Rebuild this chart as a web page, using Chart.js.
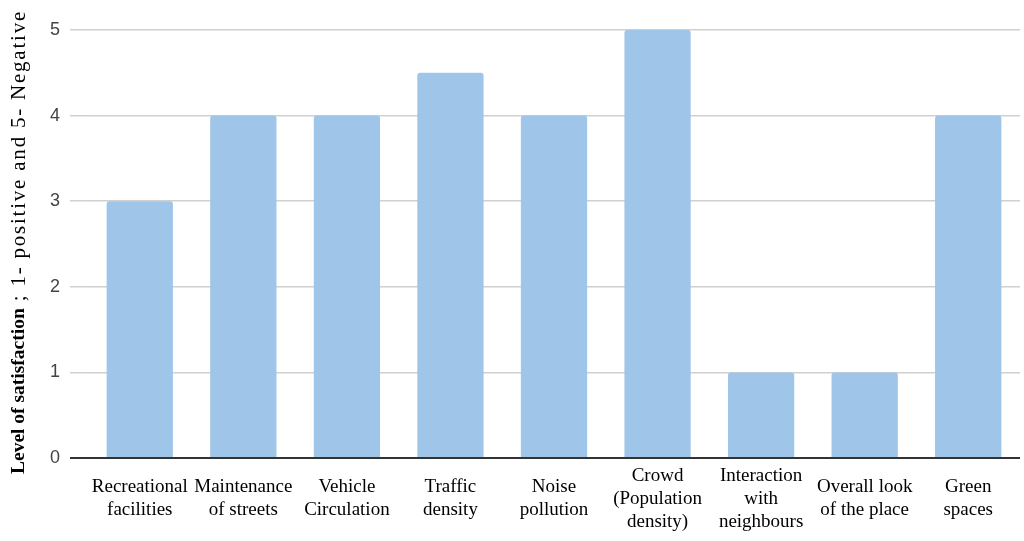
<!DOCTYPE html>
<html><head><meta charset="utf-8">
<script src="https://cdn.jsdelivr.net/npm/chart.js@4"></script>
<style>html,body{margin:0;padding:0;background:#fff}#wrap{width:1024px;height:541px}</style>
</head><body><div id="wrap"><canvas id="c" width="1024" height="541"></canvas></div>
<script>
const categories = [
  ["Recreational","facilities"],
  ["Maintenance","of streets"],
  ["Vehicle","Circulation"],
  ["Traffic","density"],
  ["Noise","pollution"],
  ["Crowd","(Population","density)"],
  ["Interaction","with","neighbours"],
  ["Overall look","of the place"],
  ["Green","spaces"]
];
const values = [3, 4, 4, 4.5, 4, 5, 1, 1, 4];
const yTicks = [0, 1, 2, 3, 4, 5];
const titleBold = "Level of satisfaction";
const titleRest = " ; 1- positive and 5- Negative";

const yTitlePlugin = {
  id: 'yTitle',
  afterDraw(chart) {
    const ctx = chart.ctx;
    ctx.save();
    ctx.translate(19, 0);
    ctx.rotate(-Math.PI / 2);
    ctx.textBaseline = 'middle';
    ctx.textAlign = 'left';
    ctx.fillStyle = '#000';
    const fb = 'bold 19.5px "Liberation Serif", serif';
    const fn = '21px "Liberation Serif", serif';
    ctx.font = fb; const wb = ctx.measureText(titleBold).width;
    const start = -474;
    ctx.fillText(titleBold, start, 0);
    ctx.font = fn;
    const targetRest = 464 - wb;
    const wn = ctx.measureText(titleRest).width;
    const extra = Math.max(0, (targetRest - wn) / titleRest.length);
    ctx.letterSpacing = extra.toFixed(2) + 'px';
    ctx.fillText(titleRest, start + wb, 0);
    ctx.restore();
  }
};

new Chart(document.getElementById('c'), {
  type: 'bar',
  data: {
    labels: categories,
    datasets: [{
      data: values,
      backgroundColor: '#9fc5e8',
      borderRadius: {topLeft: 3, topRight: 3},
      borderSkipped: 'bottom',
      categoryPercentage: 1,
      barPercentage: 0.64
    }]
  },
  options: {
    responsive: false,
    animation: false,
    devicePixelRatio: 1,
    layout: {padding: {left: 0, right: 4, top: 30, bottom: 0}},
    plugins: {legend: {display: false}, tooltip: {enabled: false}},
    scales: {
      x: {
        grid: {display: false, drawTicks: false},
        border: {display: false},
        afterFit(axis) { axis.height = 83; },
        ticks: {
          color: '#000',
          font: {family: '"Liberation Serif", serif', size: 19, lineHeight: 1.21},
          padding: 18,
          maxRotation: 0,
          autoSkip: false,
          crossAlign: 'center'
        }
      },
      y: {
        min: 0, max: 5,
        afterBuildTicks(axis) { axis.ticks = yTicks.map(v => ({value: v})); },
        afterFit(axis) { axis.width = 88; },
        grid: {
          color: ctx => ctx.tick && ctx.tick.value === 0 ? '#333' : '#d0d0d0',
          lineWidth: ctx => ctx.tick && ctx.tick.value === 0 ? 2 : 1.5,
          drawTicks: true,
          tickLength: 18
        },
        border: {display: false},
        ticks: {
          color: '#444',
          font: {family: '"Liberation Sans", Arial, sans-serif', size: 18},
          padding: 10
        }
      }
    }
  },
  plugins: [yTitlePlugin]
});
</script></body></html>
